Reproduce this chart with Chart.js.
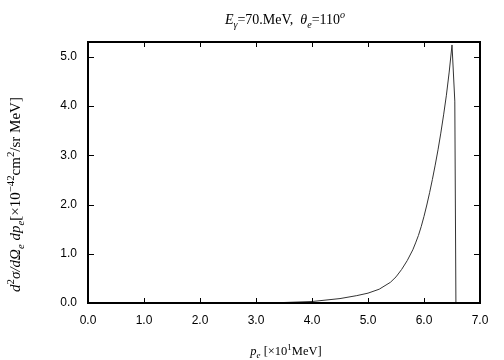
<!DOCTYPE html>
<html><head><meta charset="utf-8">
<script src="https://cdn.jsdelivr.net/npm/chart.js@4/dist/chart.umd.min.js"></script>
<style>html,body{margin:0;padding:0;background:#fff}#wrap{width:504px;height:360px}</style>
</head><body><div id="wrap"><canvas id="c" width="504" height="360"></canvas></div>
<script>
const momentum = [3.2, 3.5, 4.0, 4.5, 4.8, 5.0, 5.2, 5.4, 5.5, 5.6, 5.7, 5.8, 5.85, 5.9, 5.95, 6.0, 6.05, 6.1, 6.15, 6.2, 6.25, 6.3, 6.35, 6.4, 6.45, 6.5, 6.55, 6.57];
const crossSection = [0.0, 0.01, 0.03, 0.09, 0.15, 0.2, 0.28, 0.42, 0.53, 0.68, 0.86, 1.08, 1.22, 1.37, 1.55, 1.76, 1.99, 2.24, 2.51, 2.80, 3.11, 3.45, 3.82, 4.22, 4.69, 5.24, 4.1, 0.0];
const xTicks = [0, 1, 2, 3, 4, 5, 6, 7];
const yTicks = [0, 1, 2, 3, 4, 5];
const xMax = 7, yMax = 5.3;

const serif = '"Liberation Serif","Times New Roman",serif';
function runs(ctx, parts, size) {
  let w = 0;
  for (const p of parts) {
    const s = p.s ? size * 0.72 : size;
    ctx.font = (p.i ? 'italic ' : '') + s + 'px ' + serif;
    p._w = ctx.measureText(p.t).width; p._s = s; w += p._w;
  }
  return w;
}
function drawRuns(ctx, parts, size, cx, by) {
  const w = runs(ctx, parts, size);
  let x = cx - w / 2;
  ctx.textBaseline = 'alphabetic'; ctx.textAlign = 'left'; ctx.fillStyle = '#000';
  for (const p of parts) {
    ctx.font = (p.i ? 'italic ' : '') + p._s + 'px ' + serif;
    const dy = p.s === 'up' ? -size * 0.4 : (p.s === 'down' ? size * 0.25 : 0);
    ctx.fillText(p.t, x, by + dy);
    x += p._w;
  }
}

const framePlugin = {
  id: 'frame',
  afterDraw(chart) {
    const ctx = chart.ctx, a = chart.chartArea;
    const xs = chart.scales.x, ys = chart.scales.y;
    ctx.save();
    ctx.strokeStyle = '#000';
    ctx.lineWidth = 1;
    ctx.beginPath();
    for (const v of xTicks) {
      const px = Math.round(xs.getPixelForValue(v)) + 0.5;
      ctx.moveTo(px, a.bottom); ctx.lineTo(px, a.bottom - 5);
      ctx.moveTo(px, a.top); ctx.lineTo(px, a.top + 5);
    }
    for (const v of yTicks) {
      const py = Math.round(ys.getPixelForValue(v)) + 0.5;
      ctx.moveTo(a.left, py); ctx.lineTo(a.left + 6, py);
      ctx.moveTo(a.right, py); ctx.lineTo(a.right - 6, py);
    }
    ctx.stroke();
    ctx.lineWidth = 2;
    ctx.strokeRect(a.left, a.top, a.right - a.left, a.bottom - a.top);
    const cx = (a.left + a.right) / 2;
    drawRuns(ctx, [
      {t:'E', i:1}, {t:'γ', i:1, s:'down'}, {t:'=70.MeV,  '}, {t:'θ', i:1}, {t:'e', i:1, s:'down'}, {t:'=110'}, {t:'o', i:1, s:'up'}
    ], 14, cx + 1, 24);
    drawRuns(ctx, [
      {t:'p', i:1}, {t:'e', i:1, s:'down'}, {t:' [×10'}, {t:'1', s:'up'}, {t:'MeV]'}
    ], 12.5, cx + 2, 355);
    ctx.translate(20, (a.top + a.bottom) / 2 + 22);
    ctx.rotate(-Math.PI / 2);
    drawRuns(ctx, [
      {t:'d', i:1}, {t:'2', s:'up'}, {t:'σ/dΩ', i:1}, {t:'e', i:1, s:'down'}, {t:' dp', i:1}, {t:'e', i:1, s:'down'},
      {t:'[×10'}, {t:'−42', s:'up'}, {t:'cm'}, {t:'2', s:'up'}, {t:'/sr MeV]'}
    ], 15, 0, 0);
    ctx.restore();
  }
};

new Chart(document.getElementById('c'), {
  type: 'line',
  data: {
    datasets: [{
      data: momentum.map((x, i) => ({x: x, y: crossSection[i]})),
      borderColor: '#333', borderWidth: 1, pointRadius: 0, tension: 0, fill: false
    }]
  },
  options: {
    responsive: false, animation: false, devicePixelRatio: 1,
    layout: {padding: {top: 42, right: 24, left: 0, bottom: 0}},
    plugins: {legend: {display: false}, tooltip: {enabled: false}, title: {display: false}},
    scales: {
      x: {
        type: 'linear', min: 0, max: xMax,
        afterBuildTicks: s => { s.ticks = xTicks.map(v => ({value: v})); },
        afterFit: s => { s.height = 57; },
        grid: {display: false, drawTicks: false},
        border: {display: false},
        ticks: {padding: 10, color: '#000', font: {family: '"Liberation Sans",Arial,sans-serif', size: 12},
                maxRotation: 0, autoSkip: false, callback: v => Number(v).toFixed(1)}
      },
      y: {
        type: 'linear', min: 0, max: yMax,
        afterBuildTicks: s => { s.ticks = yTicks.map(v => ({value: v})); },
        afterFit: s => { s.width = 88; },
        grid: {display: false, drawTicks: false},
        border: {display: false},
        ticks: {padding: 11, color: '#000', font: {family: '"Liberation Sans",Arial,sans-serif', size: 12},
                autoSkip: false, callback: v => Number(v).toFixed(1)}
      }
    }
  },
  plugins: [framePlugin]
});
</script></body></html>
